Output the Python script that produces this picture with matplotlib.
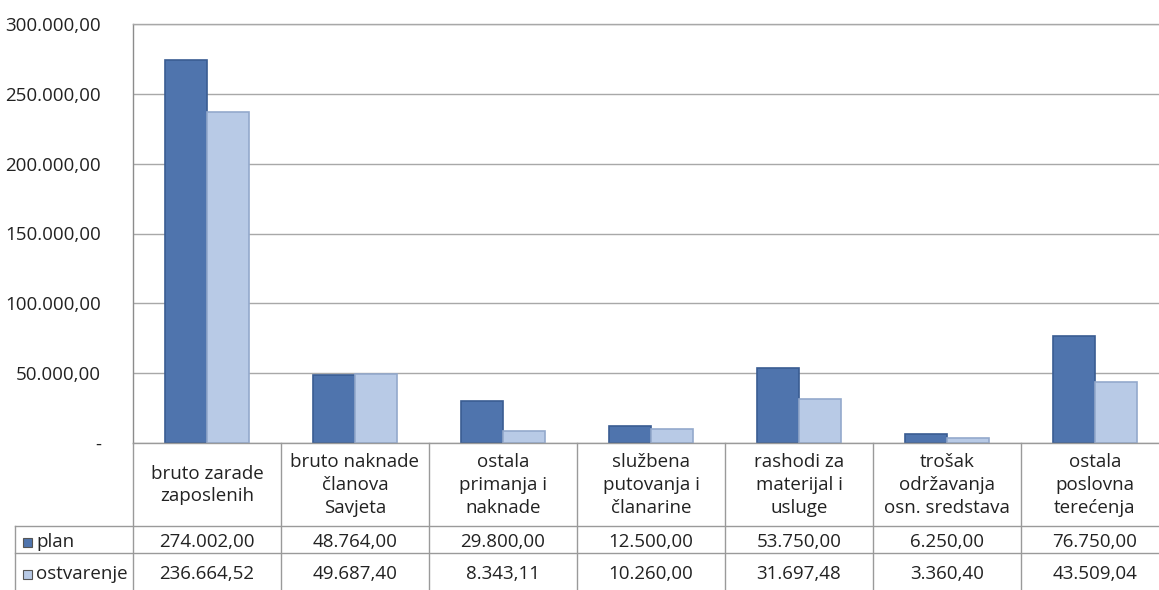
import matplotlib
matplotlib.use("Agg")
import matplotlib.pyplot as plt
from matplotlib.lines import Line2D
from matplotlib.patches import Rectangle
import numpy as np

categories = [
    "bruto zarade\nzaposlenih",
    "bruto naknade\nčlanova\nSavjeta",
    "ostala\nprimanja i\nnaknade",
    "službena\nputovanja i\nčlanarine",
    "rashodi za\nmaterijal i\nusluge",
    "trošak\nodržavanja\nosn. sredstava",
    "ostala\nposlovna\nterećenja",
]
plan = [274002.00, 48764.00, 29800.00, 12500.00, 53750.00, 6250.00, 76750.00]
ostvarenje = [236664.52, 49687.40, 8343.11, 10260.00, 31697.48, 3360.40, 43509.04]
series_names = ["plan", "ostvarenje"]
y_ticks = [0, 50000, 100000, 150000, 200000, 250000, 300000]

FONT = "Open Sans"
plt.rcParams["font.family"] = [FONT, "DejaVu Sans"]

W, H = 1159, 590
fig = plt.figure(figsize=(W / 100, H / 100), dpi=100)
fig.patch.set_facecolor("white")

def fx(px):
    return px / W

def fy(py):
    return 1 - py / H

ax_left, ax_right, ax_top, ax_bot = 133, 1169, 24, 443
ax = fig.add_axes([fx(ax_left), fy(ax_bot), fx(ax_right - ax_left), fy(ax_top) - fy(ax_bot)])

def fmt(v):
    s = f"{v:,.2f}"
    return s.replace(",", "X").replace(".", ",").replace("X", ".")

c_plan = "#4F74AD"
c_plan_edge = "#3A5C92"
c_ost = "#B8CAE6"
c_ost_edge = "#93A9CC"
txt_c = "#222222"

x = np.arange(len(categories))
bw = 0.284
ax.bar(x - bw / 2, plan, width=bw, color=c_plan, edgecolor=c_plan_edge, linewidth=1.2, zorder=3)
ax.bar(x + bw / 2, ostvarenje, width=bw, color=c_ost, edgecolor=c_ost_edge, linewidth=1.2, zorder=3)

ax.set_xlim(-0.5, len(categories) - 0.5)
ax.set_ylim(0, 300000)
ax.set_yticks(y_ticks)
ax.set_yticklabels(["-" if t == 0 else fmt(t) for t in y_ticks], fontsize=13.5, color=txt_c)
ax.tick_params(axis="y", length=0, pad=23)
ax.set_xticks([])
ax.grid(axis="y", color="#A8A8A8", linewidth=1, zorder=0)
for s in ["right", "bottom"]:
    ax.spines[s].set_visible(False)
ax.spines["left"].set_color("#8C8C8C")
ax.spines["top"].set_color("#A8A8A8")
ax.spines["left"].set_linewidth(1)
ax.spines["top"].set_linewidth(1)

# data table
line_c = "#9A9A9A"
col_w = (ax_right - ax_left) / len(categories)
row_hdr_bot = 526
row_plan_bot = 553
row_bot = 592
label_left = 15

def hline(x0, x1, y):
    fig.add_artist(Line2D([fx(x0), fx(x1)], [fy(y), fy(y)], color=line_c, linewidth=1))

def vline(xp, y0, y1):
    fig.add_artist(Line2D([fx(xp), fx(xp)], [fy(y0), fy(y1)], color=line_c, linewidth=1))

hline(ax_left, ax_right, ax_bot)
hline(label_left, ax_right, row_hdr_bot)
hline(label_left, ax_right, row_plan_bot)
vline(ax_left, ax_bot, row_bot)
vline(label_left, row_hdr_bot, row_bot)
for i in range(1, len(categories) + 1):
    vline(ax_left + i * col_w, ax_bot, row_bot)

fs = 13.5
base_plan = 547
base_ost = 579
for i, cat in enumerate(categories):
    cx = ax_left + (i + 0.5) * col_w
    fig.text(fx(cx), fy(485), cat, ha="center", va="center",
             fontsize=fs, linespacing=1.35, color=txt_c)
    fig.text(fx(cx), fy(base_plan), fmt(plan[i]), ha="center",
             va="baseline", fontsize=fs, color=txt_c)
    fig.text(fx(cx), fy(base_ost), fmt(ostvarenje[i]), ha="center", va="baseline",
             fontsize=fs, color=txt_c)

for yb, name, fc in [(base_plan, series_names[0], c_plan), (base_ost, series_names[1], c_ost)]:
    fig.add_artist(Rectangle((fx(23), fy(yb)), fx(9), fy(yb - 9) - fy(yb),
                             facecolor=fc, edgecolor="#555555", linewidth=0.8))
    fig.text(fx(36), fy(yb), name, ha="left", va="baseline", fontsize=fs, color=txt_c)

fig.savefig("out.png", dpi=100, facecolor="white")
